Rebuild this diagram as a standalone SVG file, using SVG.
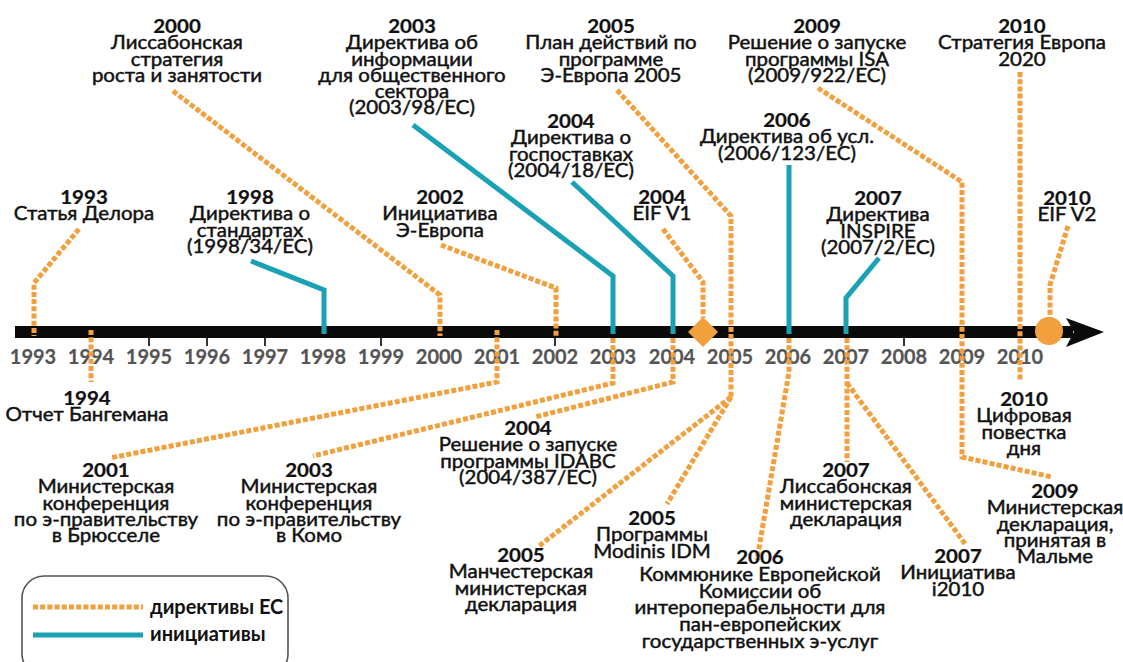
<svg xmlns="http://www.w3.org/2000/svg" width="1123" height="662" viewBox="0 0 1123 662">
  <defs>
    <style>
      .dir { fill: none; stroke: #F2A03D; stroke-width: 5; stroke-dasharray: 5 2.2; }
      .ini { fill: none; stroke: #1BA1B4; stroke-width: 5; }
      .lbl { font-family: Lato, "Noto Sans", sans-serif; font-size: 20.5px; fill: #111111; stroke: #111111; stroke-width: 0.5; text-anchor: middle; }
      .lbl .y { font-weight: bold; stroke-width: 0.25; }
      .tick { font-family: Lato, "Noto Sans", sans-serif; font-size: 20px; font-weight: bold; fill: #555555; stroke: #555555; stroke-width: 0.2; text-anchor: middle; }
      .leg { font-family: Lato, "Noto Sans", sans-serif; font-size: 20px; font-weight: bold; fill: #111111; }
    </style>
  </defs>
  <rect width="1123" height="662" fill="#ffffff"/>

  <!-- time axis -->
  <g id="timeline">
    <rect x="15" y="326" width="1058" height="12" fill="#0a0a0a"/>
    <path d="M1066,318 L1104,332 L1066,347 L1074,332 Z" fill="#0a0a0a"/>
    <g stroke="#333" stroke-width="2">
      <line x1="149" y1="338" x2="149" y2="346"/>
      <line x1="207" y1="338" x2="207" y2="346"/>
      <line x1="265" y1="338" x2="265" y2="346"/>
      <line x1="381" y1="338" x2="381" y2="346"/>
      <line x1="555" y1="338" x2="555" y2="346"/>
      <line x1="904" y1="338" x2="904" y2="346"/>
    </g>
    <g class="tick">
      <text x="33" y="364">1993</text>
      <text x="91" y="364">1994</text>
      <text x="149" y="364">1995</text>
      <text x="207" y="364">1996</text>
      <text x="265" y="364">1997</text>
      <text x="323" y="364">1998</text>
      <text x="381" y="364">1999</text>
      <text x="439" y="364">2000</text>
      <text x="497" y="364">2001</text>
      <text x="555" y="364">2002</text>
      <text x="613" y="364">2003</text>
      <text x="672" y="364">2004</text>
      <text x="730" y="364">2005</text>
      <text x="788" y="364">2006</text>
      <text x="846" y="364">2007</text>
      <text x="904" y="364">2008</text>
      <text x="962" y="364">2009</text>
      <text x="1020" y="364">2010</text>
    </g>
  </g>

  <!-- connectors -->
  <g id="connectors">
    <!-- above the axis -->
    <path class="dir" d="M79,229 L34,283 L34,336"/>
    <path class="ini" d="M251,261 L324,290 L324,334"/>
    <path class="dir" d="M173,91 L440,295 L440,336"/>
    <path class="dir" d="M441,245 L556,288 L556,336"/>
    <path class="ini" d="M413,125 L613,276 L613,334"/>
    <path class="ini" d="M572,182 L673,276 L673,334"/>
    <path class="dir" d="M663,229 L703,282 L703,318"/>
    <path class="dir" d="M617,90 L731,216 L731,397"/>
    <path class="ini" d="M789,165 L789,334"/>
    <path class="ini" d="M879,258 L846,298 L846,334"/>
    <path class="dir" d="M818,88 L962,182 L962,457 L1052,477"/>
    <path class="dir" d="M1020,72 L1020,380"/>
    <path class="dir" d="M1068,226 L1050,285 L1050,318"/>
    <!-- below the axis -->
    <path class="dir" d="M91,330 L91,382"/>
    <path class="dir" d="M497,330 L497,382 L110,458"/>
    <path class="dir" d="M613,338 L613,383 L313,456"/>
    <path class="dir" d="M673,338 L673,382 L535,417"/>
    <path class="dir" d="M731,397 L539,546"/>
    <path class="dir" d="M731,397 L667,504"/>
    <path class="dir" d="M789,338 L789,372 L757,560"/>
    <path class="dir" d="M847,338 L847,462"/>
    <path class="dir" d="M847,383 L966,545"/>
    <path d="M703,317 L718,332 L703,347 L688,332 Z" fill="#F2A03D"/>
    <circle cx="1049" cy="331" r="14" fill="#F2A03D"/>
  </g>

  <!-- events above the axis (text slightly condensed vertically) -->
  <g id="n2000" class="lbl">
    <text x="177" y="33" transform="matrix(1 0 0 0.9 0 3.3)"><tspan class="y">2000</tspan><tspan x="177" dy="18.1">Лиссабонская</tspan><tspan x="177" dy="18.1">стратегия</tspan><tspan x="177" dy="18.1">роста и занятости</tspan></text>
  </g>
  <g id="n2003-psi" class="lbl">
    <text x="412" y="33" transform="matrix(1 0 0 0.9 0 3.3)"><tspan class="y">2003</tspan><tspan x="412" dy="18.1">Директива об</tspan><tspan x="412" dy="18.1">информации</tspan><tspan x="412" dy="18.1">для общественного</tspan><tspan x="412" dy="18.1">сектора</tspan><tspan x="412" dy="18.1">(2003/98/EC)</tspan></text>
  </g>
  <g id="n2005-plan" class="lbl">
    <text x="611" y="33" transform="matrix(1 0 0 0.9 0 3.3)"><tspan class="y">2005</tspan><tspan x="611" dy="18.1">План действий по</tspan><tspan x="611" dy="18.1">программе</tspan><tspan x="611" dy="18.1">Э-Европа 2005</tspan></text>
  </g>
  <g id="n2009-isa" class="lbl">
    <text x="817" y="33" transform="matrix(1 0 0 0.9 0 3.3)"><tspan class="y">2009</tspan><tspan x="817" dy="18.1">Решение о запуске</tspan><tspan x="817" dy="18.1">программы ISA</tspan><tspan x="817" dy="18.1">(2009/922/EC)</tspan></text>
  </g>
  <g id="n2010-europe2020" class="lbl">
    <text x="1022" y="33" transform="matrix(1 0 0 0.9 0 3.3)"><tspan class="y">2010</tspan><tspan x="1022" dy="18.1">Стратегия Европа</tspan><tspan x="1022" dy="18.1">2020</tspan></text>
  </g>
  <g id="n2004-procurement" class="lbl">
    <text x="571" y="128" transform="matrix(1 0 0 0.9 0 12.8)"><tspan class="y">2004</tspan><tspan x="571" dy="18.1">Директива о</tspan><tspan x="571" dy="18.1">госпоставках</tspan><tspan x="571" dy="18.1">(2004/18/EC)</tspan></text>
  </g>
  <g id="n2006-services" class="lbl">
    <text x="787" y="127" transform="matrix(1 0 0 0.9 0 12.7)"><tspan class="y">2006</tspan><tspan x="787" dy="18.1">Директива об усл.</tspan><tspan x="787" dy="18.1">(2006/123/EC)</tspan></text>
  </g>
  <g id="n1993" class="lbl">
    <text x="84" y="204" transform="matrix(1 0 0 0.9 0 20.4)"><tspan class="y">1993</tspan><tspan x="84" dy="18.1">Статья Делора</tspan></text>
  </g>
  <g id="n1998" class="lbl">
    <text x="250" y="204" transform="matrix(1 0 0 0.9 0 20.4)"><tspan class="y">1998</tspan><tspan x="250" dy="18.1">Директива о</tspan><tspan x="250" dy="18.1">стандартах</tspan><tspan x="250" dy="18.1">(1998/34/EC)</tspan></text>
  </g>
  <g id="n2002" class="lbl">
    <text x="440" y="204" transform="matrix(1 0 0 0.9 0 20.4)"><tspan class="y">2002</tspan><tspan x="440" dy="18.1">Инициатива</tspan><tspan x="440" dy="18.1">Э-Европа</tspan></text>
  </g>
  <g id="n2004-eif1" class="lbl">
    <text x="662" y="204" transform="matrix(1 0 0 0.9 0 20.4)"><tspan class="y">2004</tspan><tspan x="662" dy="18.1">EIF V1</tspan></text>
  </g>
  <g id="n2007-inspire" class="lbl">
    <text x="878" y="205" transform="matrix(1 0 0 0.9 0 20.5)"><tspan class="y">2007</tspan><tspan x="878" dy="18.1">Директива</tspan><tspan x="878" dy="18.1">INSPIRE</tspan><tspan x="878" dy="18.1">(2007/2/EC)</tspan></text>
  </g>
  <g id="n2010-eif2" class="lbl">
    <text x="1067" y="205" transform="matrix(1 0 0 0.9 0 20.5)"><tspan class="y">2010</tspan><tspan x="1067" dy="18.1">EIF V2</tspan></text>
  </g>

  <!-- events below the axis -->
  <g id="n1994" class="lbl">
    <text x="87" y="405" transform="matrix(1 0 0 0.9 0 40.5)"><tspan class="y">1994</tspan><tspan x="87" dy="18.1">Отчет Бангемана</tspan></text>
  </g>
  <g id="n2001" class="lbl">
    <text x="106" y="477" transform="matrix(1 0 0 0.9 0 47.7)"><tspan class="y">2001</tspan><tspan x="106" dy="18.1">Министерская</tspan><tspan x="106" dy="18.1">конференция</tspan><tspan x="106" dy="18.1">по э-правительству</tspan><tspan x="106" dy="18.1">в Брюсселе</tspan></text>
  </g>
  <g id="n2003-como" class="lbl">
    <text x="309" y="477" transform="matrix(1 0 0 0.9 0 47.7)"><tspan class="y">2003</tspan><tspan x="309" dy="18.1">Министерская</tspan><tspan x="309" dy="18.1">конференция</tspan><tspan x="309" dy="18.1">по э-правительству</tspan><tspan x="309" dy="18.1">в Комо</tspan></text>
  </g>
  <g id="n2004-idabc" class="lbl">
    <text x="528" y="435" transform="matrix(1 0 0 0.9 0 43.5)"><tspan class="y">2004</tspan><tspan x="528" dy="18.1">Решение о запуске</tspan><tspan x="528" dy="18.1">программы IDABC</tspan><tspan x="528" dy="18.1">(2004/387/EC)</tspan></text>
  </g>
  <g id="n2005-manchester" class="lbl">
    <text x="521" y="562" transform="matrix(1 0 0 0.9 0 56.2)"><tspan class="y">2005</tspan><tspan x="521" dy="18.1">Манчестерская</tspan><tspan x="521" dy="18.1">министерская</tspan><tspan x="521" dy="18.1">декларация</tspan></text>
  </g>
  <g id="n2005-modinis" class="lbl">
    <text x="652" y="525" transform="matrix(1 0 0 0.9 0 52.5)"><tspan class="y">2005</tspan><tspan x="652" dy="18.1">Программы</tspan><tspan x="652" dy="18.1">Modinis IDM</tspan></text>
  </g>
  <g id="n2006-communication" class="lbl">
    <text x="760" y="564" transform="matrix(1 0 0 0.9 0 56.4)"><tspan class="y">2006</tspan><tspan x="760" dy="18.7">Коммюнике Европейской</tspan><tspan x="760" dy="18.7">Комиссии об</tspan><tspan x="760" dy="18.7">интероперабельности для</tspan><tspan x="760" dy="18.7">пан-европейских</tspan><tspan x="760" dy="18.7">государственных э-услуг</tspan></text>
  </g>
  <g id="n2007-lisbon" class="lbl">
    <text x="846" y="477" transform="matrix(1 0 0 0.9 0 47.7)"><tspan class="y">2007</tspan><tspan x="846" dy="18.1">Лиссабонская</tspan><tspan x="846" dy="18.1">министерская</tspan><tspan x="846" dy="18.1">декларация</tspan></text>
  </g>
  <g id="n2007-i2010" class="lbl">
    <text x="958" y="563" transform="matrix(1 0 0 0.9 0 56.3)"><tspan class="y">2007</tspan><tspan x="958" dy="18.1">Инициатива</tspan><tspan x="958" dy="18.1">i2010</tspan></text>
  </g>
  <g id="n2010-agenda" class="lbl">
    <text x="1024" y="406" transform="matrix(1 0 0 0.9 0 40.6)"><tspan class="y">2010</tspan><tspan x="1024" dy="18.1">Цифровая</tspan><tspan x="1024" dy="18.1">повестка</tspan><tspan x="1024" dy="18.1">дня</tspan></text>
  </g>
  <g id="n2009-malmo" class="lbl">
    <text x="1055" y="498" transform="matrix(1 0 0 0.9 0 49.8)"><tspan class="y">2009</tspan><tspan x="1055" dy="18.1">Министерская</tspan><tspan x="1055" dy="18.1">декларация,</tspan><tspan x="1055" dy="18.1">принятая в</tspan><tspan x="1055" dy="18.1">Мальме</tspan></text>
  </g>

  <!-- legend -->
  <g id="legend">
    <rect x="22" y="576" width="266" height="100" rx="22" ry="22" fill="#ffffff" stroke="#555" stroke-width="1.6"/>
    <line class="dir" x1="33" y1="607" x2="143" y2="607"/>
    <text class="leg" x="150" y="614">директивы ЕС</text>
    <line class="ini" x1="33" y1="635" x2="143" y2="635"/>
    <text class="leg" x="150" y="641">инициативы</text>
  </g>
</svg>
